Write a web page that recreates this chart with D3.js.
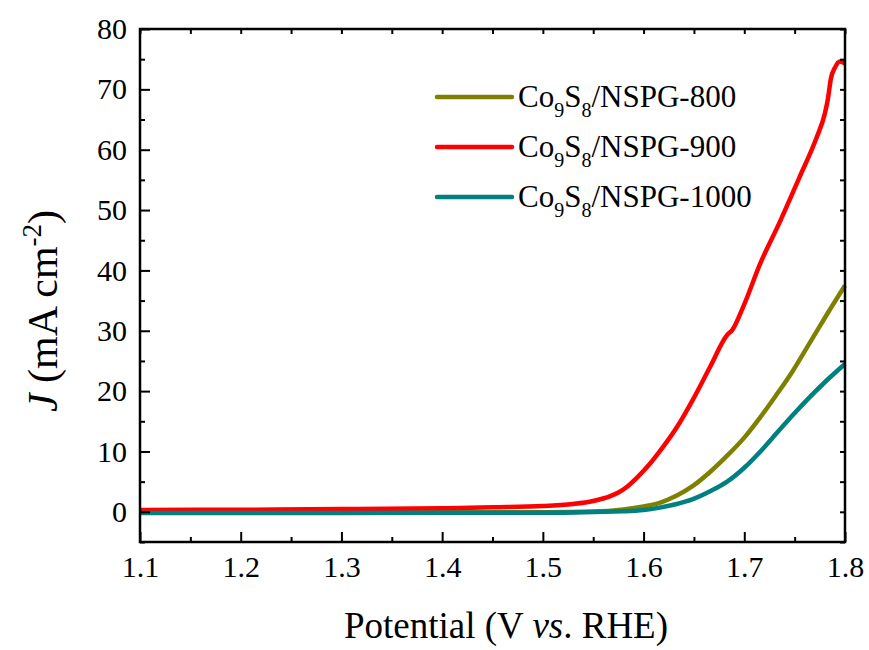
<!DOCTYPE html>
<html>
<head>
<meta charset="utf-8">
<script src="https://cdn.jsdelivr.net/npm/d3@7"></script>
<style>
  body { margin: 0; background: #fff; }
  text { font-family: "Liberation Serif", "Times New Roman", serif; fill: #000; }
</style>
</head>
<body>
<svg id="chartSVG" width="869" height="650"></svg>
<script>
// series data (potential V vs RHE, current density mA cm^-2)
const potential800 = [1.1, 1.2, 1.3, 1.4, 1.5, 1.55, 1.58, 1.6, 1.616, 1.633, 1.649, 1.666, 1.683, 1.7, 1.716, 1.732, 1.748, 1.765, 1.782, 1.8];
const current800 = [-0.15, -0.12, -0.1, -0.08, -0.05, 0.05, 0.4, 0.9, 1.5, 2.7, 4.3, 6.6, 9.3, 12.3, 15.7, 19.4, 23.3, 28, 32.7, 37.5];

const potential900 = [1.1, 1.2, 1.3, 1.4, 1.45, 1.5, 1.53, 1.55, 1.567, 1.575, 1.584, 1.592, 1.6, 1.608, 1.616, 1.633, 1.649, 1.666, 1.683, 1.688, 1.699, 1.716, 1.736, 1.755, 1.772, 1.78, 1.783, 1.786, 1.79, 1.795, 1.8];
const current900 = [0.3, 0.35, 0.45, 0.6, 0.75, 0.95, 1.3, 1.8, 2.6, 3.2, 4.2, 5.4, 6.8, 8.3, 10.0, 14, 18.6, 24, 29.3, 30.1, 34.0, 41.2, 48.3, 55.5, 62.1, 66, 68.4, 71.8, 73.6, 74.6, 74.3];

const potential1000 = [1.1, 1.2, 1.3, 1.4, 1.5, 1.58, 1.6, 1.616, 1.633, 1.649, 1.666, 1.683, 1.7, 1.716, 1.732, 1.748, 1.765, 1.782, 1.8];
const current1000 = [-0.2, -0.2, -0.18, -0.17, -0.15, 0.1, 0.3, 0.7, 1.3, 2.1, 3.4, 5.0, 7.3, 10.0, 13.0, 16.0, 19.0, 21.8, 24.5];

const seriesNames = ["800", "900", "1000"];
const seriesColors = ["#808000", "#ff0000", "#008080"];

const xTicks = [1.1, 1.2, 1.3, 1.4, 1.5, 1.6, 1.7, 1.8];
const yTicks = [0, 10, 20, 30, 40, 50, 60, 70, 80];

const margin = { top: 29, right: 24, bottom: 108, left: 140 },
  width = 869 - margin.left - margin.right,
  height = 650 - margin.top - margin.bottom;

const svg = d3.select("#chartSVG");
const g = svg.append("g").attr("transform", `translate(${margin.left},${margin.top})`);

const x = d3.scaleLinear().domain([1.1, 1.8]).range([0, width]);
const y = d3.scaleLinear().domain([-5, 80]).range([height, 0]);

const xMinor = d3.range(1.15, 1.8, 0.1);
const yMinor = d3.range(-5, 80, 10);

// curves
const line = d3.line()
  .x(d => x(d[0]))
  .y(d => y(d[1]))
  .curve(d3.curveMonotoneX);

const allSeries = [
  d3.zip(potential800, current800),
  d3.zip(potential900, current900),
  d3.zip(potential1000, current1000)
];

const plot = g.append("g");
allSeries.forEach((s, i) => {
  plot.append("path")
    .datum(s)
    .attr("fill", "none")
    .attr("stroke", seriesColors[i])
    .attr("stroke-width", 4.5)
    .attr("stroke-linejoin", "round")
    .attr("d", line);
});

// axes
function styleAxis(sel) {
  sel.attr("font-family", null).attr("font-size", null);
  sel.select(".domain").remove();
  sel.selectAll("line").attr("stroke", "#000").attr("stroke-width", 2);
  sel.selectAll("text").attr("font-size", 30);
}

const xAxis = g.append("g").attr("transform", `translate(0,${height})`)
  .call(d3.axisBottom(x).tickValues(xTicks).tickSize(-10).tickPadding(14).tickFormat(d3.format(".1f")));
styleAxis(xAxis);
xAxis.selectAll("text").attr("dy", "0.71em");

const xAxisMinor = g.append("g").attr("transform", `translate(0,${height})`)
  .call(d3.axisBottom(x).tickValues(xMinor).tickSize(-5).tickFormat(""));
styleAxis(xAxisMinor);

const yAxis = g.append("g")
  .call(d3.axisLeft(y).tickValues(yTicks).tickSize(-10).tickPadding(13));
styleAxis(yAxis);

const yAxisMinor = g.append("g")
  .call(d3.axisLeft(y).tickValues(yMinor).tickSize(-5).tickFormat(""));
styleAxis(yAxisMinor);

// opposite axes with short ticks
const xTop = g.append("g")
  .call(d3.axisTop(x).tickValues(xTicks.concat(xMinor)).tickSize(-5).tickFormat(""));
styleAxis(xTop);
const yRight = g.append("g").attr("transform", `translate(${width},0)`)
  .call(d3.axisRight(y).tickValues(yTicks.concat(yMinor)).tickSize(-5).tickFormat(""));
styleAxis(yRight);

// frame
g.append("rect")
  .attr("x", 0).attr("y", 0)
  .attr("width", width).attr("height", height)
  .attr("fill", "none")
  .attr("stroke", "#000")
  .attr("stroke-width", 2.5);

// axis titles
const xTitle = svg.append("text")
  .attr("x", 506)
  .attr("y", 638)
  .attr("text-anchor", "middle")
  .attr("font-size", 37);
xTitle.append("tspan").text("Potential (V ");
xTitle.append("tspan").attr("font-style", "italic").text("vs");
xTitle.append("tspan").text(". RHE)");

const yTitle = svg.append("text")
  .attr("transform", "translate(57,311) rotate(-90)")
  .attr("text-anchor", "middle")
  .attr("font-size", 42);
yTitle.append("tspan").attr("font-style", "italic").text("J");
yTitle.append("tspan").text(" (mA cm");
yTitle.append("tspan").attr("font-size", 27).attr("dy", -16).text("-2");
yTitle.append("tspan").attr("dy", 16).text(")");

// legend
const legend = svg.append("g").attr("transform", "translate(437,97)");
seriesNames.forEach((name, i) => {
  const row = legend.append("g").attr("transform", `translate(0,${i * 50})`);
  row.append("line")
    .attr("x1", 0).attr("x2", 75)
    .attr("stroke", seriesColors[i])
    .attr("stroke-width", 4.5)
    .attr("stroke-linecap", "round");
  const t = row.append("text").attr("x", 81).attr("y", 10).attr("font-size", 31);
  t.append("tspan").text("Co");
  t.append("tspan").attr("font-size", 20).attr("dy", 10).text("9");
  t.append("tspan").attr("dy", -10).text("S");
  t.append("tspan").attr("font-size", 20).attr("dy", 10).text("8");
  t.append("tspan").attr("dy", -10).text("/NSPG-" + name);
});
</script>
</body>
</html>
